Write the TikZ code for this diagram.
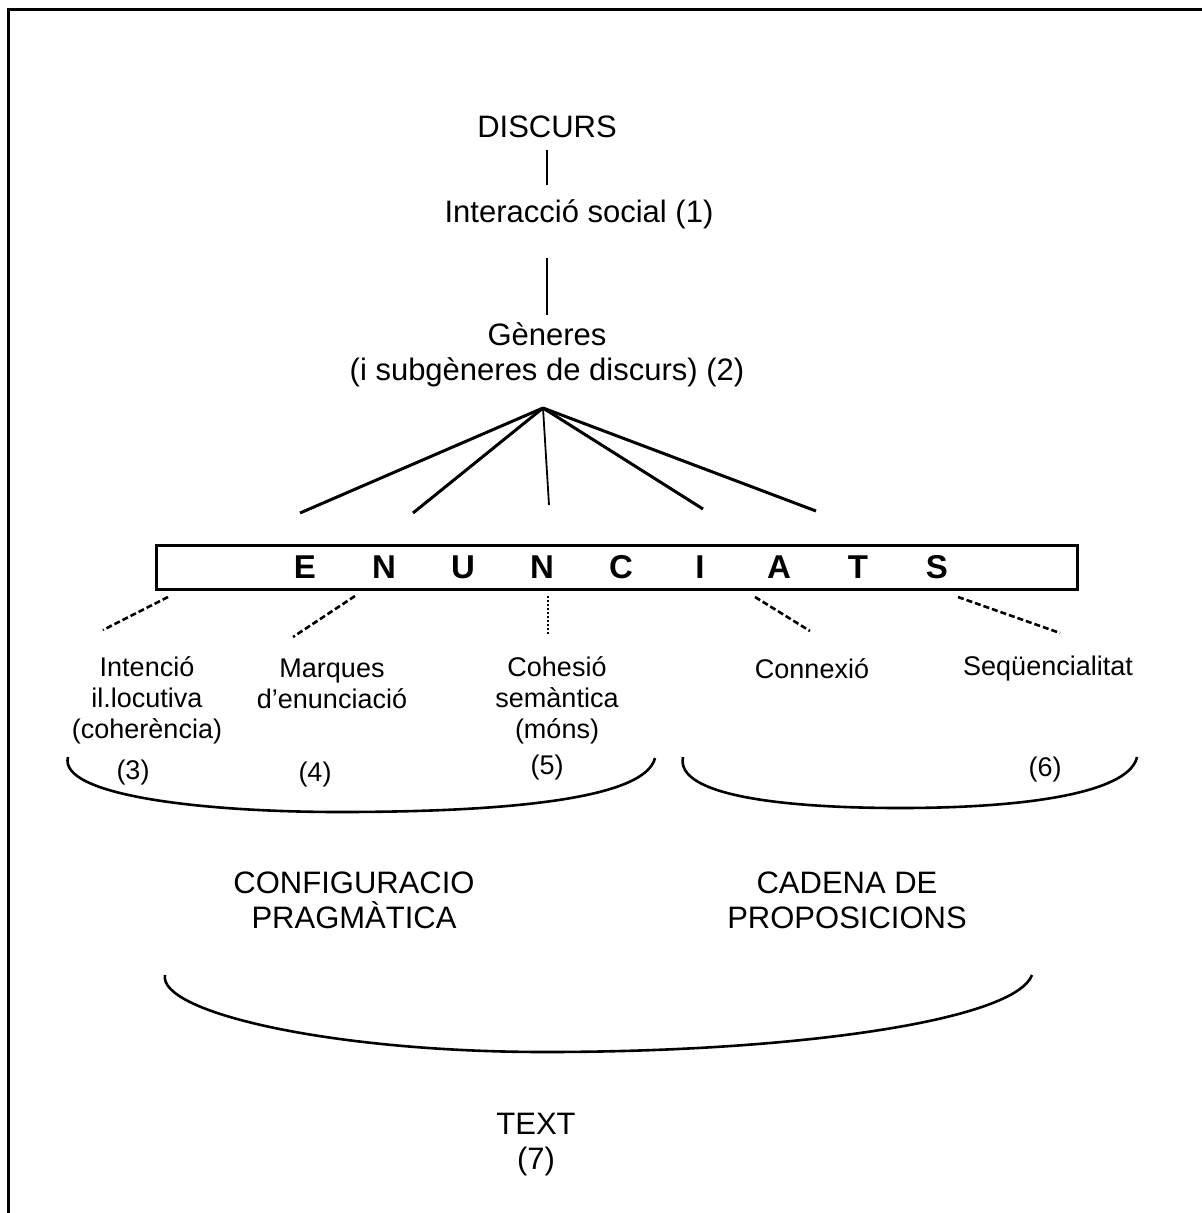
\documentclass[tikz,border=0pt]{standalone}
\usepackage{fontspec}
\setmainfont{Liberation Sans}
\usepackage{tikz}
\usetikzlibrary{positioning}
\tikzset{node distance=1cm, auto,
  big/.style={font=\fontsize{15.5}{17.5}\selectfont, align=center, inner sep=0pt},
  small/.style={font=\fontsize{13.5}{15.5}\selectfont, align=center, inner sep=0pt},
  hatch/.style={line width=1.3pt, dash pattern=on 3pt off 1.5pt},
  brace/.style={line width=1.3pt}}
\newcommand{\lt}[1]{\makebox[39.5pt]{#1}}

\begin{document}
\begin{tikzpicture}[x=0.5pt, y=-0.5pt, line width=1.5pt]
  \useasboundingbox (0,0) rectangle (1202,1213);
  \draw[line width=1.5pt] (8,1213) -- (8,10) -- (1202,10);

  \node (disc) [big] at (547,127)  {DISCURS};
  \node (int)  [big] at (579,214)  {Interacció social (1)};
  \node (gen)  [big] at (547,355)  {Gèneres\\(i subgèneres de discurs) (2)};
  \node (enun) [draw, line width=1.5pt, minimum width=460.5pt, minimum height=22pt,
                inner sep=0pt, font=\fontsize{16.5}{16.5}\selectfont\bfseries] at (616.5,567)
               {\hspace*{4.5pt}\lt{E}\lt{N}\lt{U}\lt{N}\lt{C}\lt{I}\lt{A}\lt{T}\lt{S}};

  \draw[line width=1.2pt, shorten <=11.5pt, shorten >=14.5pt] (disc.center) -- (disc |- int);
  \draw[line width=1.2pt, shorten <=22pt, shorten >=3pt] (gen |- int) -- (gen.north);

  \coordinate (apex) at (543,408);
  \foreach \x/\y [count=\i] in {300/513, 413/513, 549/505, 703/509, 816/511}
    \coordinate (f\i) at (\x,\y);
  \foreach \i in {1,2,4,5}
    \draw (apex) -- (f\i);
  \draw[line width=0.9pt] (apex) -- (f3);

  \node (ill)  [small] at (147,700)  {Intenció\\il.locutiva\\(coherència)};
  \node (marq) [small] at (332,684)  {Marques\\d’enunciació};
  \node (coh)  [small] at (557,700)  {Cohesió\\semàntica\\(móns)};
  \node (conn) [small] at (812,669)  {Connexió};
  \node (seq)  [small] at (1048,669) {Seqüencialitat};
  \node (n3)   [small] at (133,773)  {(3)};
  \node (n4)   [small] at (315,775)  {(4)};
  \node (n5)   [small] at (547,768)  {(5)};
  \node (n6)   [small] at (1045,770) {(6)};

  \foreach \a/\b/\c/\d [count=\i] in {168/597/103/630, 355/596/293/637, 548/596/548/636,
                                       755/597/810/631, 958/597/1060/633} {
    \coordinate (b\i) at (\a,\b);
    \coordinate (e\i) at (\c,\d);
  }
  \foreach \i in {1,2,4,5}
    \draw[hatch] (b\i) -- (e\i);
  \draw[line width=0.9pt, dash pattern=on 1pt off 1pt] (b3) -- (e3);

  \draw[brace] (68,757) .. controls (58,795) and (200,812) .. (340,812)
               .. controls (500,812) and (645,800) .. (655,758);
  \draw[brace] (683,757) .. controls (675,795) and (780,808) .. (900,808)
               .. controls (1040,808) and (1130,790) .. (1137,757);

  \node (conf) [big] at (354,900)  {CONFIGURACIO\\PRAGMÀTICA};
  \node (cad)  [big] at (847,900)  {CADENA DE\\PROPOSICIONS};

  \draw[brace] (165,975) .. controls (158,1012) and (330,1052) .. (545,1052)
               .. controls (800,1052) and (1015,1020) .. (1032,975);

  \node (text) [big] at (536,1145) {TEXT\\(7)};
\end{tikzpicture}
\end{document}
